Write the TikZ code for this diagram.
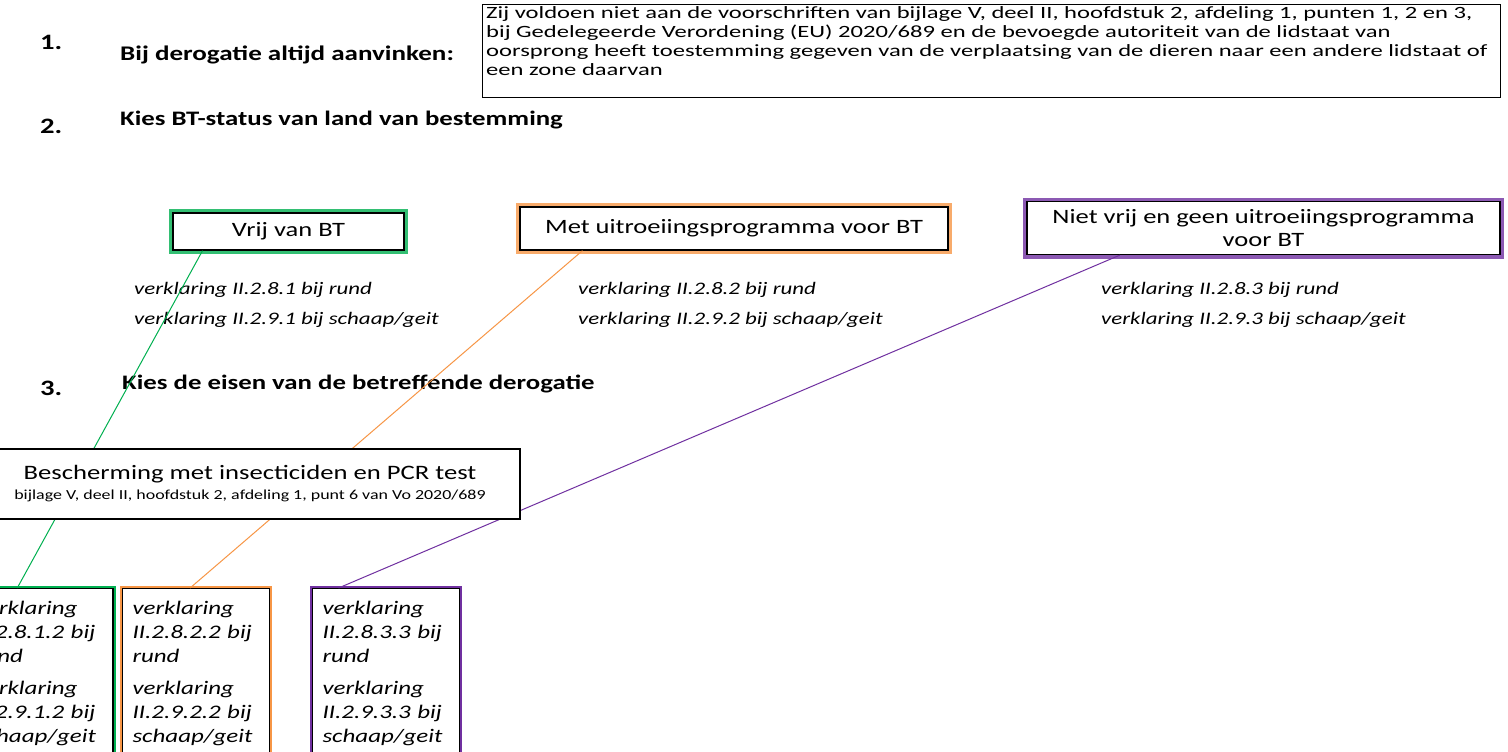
\documentclass[tikz,border=0pt]{standalone}
\usepackage{fontspec}
\setmainfont{Carlito}[FakeStretch=1.3]
\newfontfamily\zfont{Carlito}[FakeStretch=1.43]
\usetikzlibrary{calc}
\definecolor{cgreen}{HTML}{00B050}
\definecolor{corange}{HTML}{F79646}
\definecolor{cpurple}{HTML}{7030A0}
\begin{document}
\begin{tikzpicture}[x=1pt,y=-1pt,
  num/.style={anchor=west,inner sep=0pt,font=\bfseries\fontsize{22}{24}\selectfont},
  head/.style={anchor=west,inner sep=0pt,font=\bfseries\fontsize{20.6}{23}\selectfont},
  glowbox/.style={draw=black,line width=1.3pt,fill=white,inner sep=0pt,
    preaction={draw=#1,line width=8pt,opacity=0.8},
    font=\fontsize{20.4}{23}\selectfont,align=center},
  decl/.style={anchor=west,inner sep=0pt,font=\itshape\fontsize{17.6}{21}\selectfont},
  subbox/.style={draw=black,line width=1.3pt,fill=white,anchor=north,
    preaction={draw=#1,line width=5pt},
    text width=127pt,inner xsep=10pt,inner ysep=13pt,align=left,
    font=\itshape\fontsize{19.2}{24}\selectfont},
  link/.style={line width=1pt},
]
\path[use as bounding box] (0,0) rectangle (1508,752);
\clip (0,0) rectangle (1508,752);
\fill[white] (0,0) rectangle (1508,752);

% section 1
\node[num] (n1) at (40,42) {1.};
\node[head,font=\bfseries\fontsize{20.8}{23}\selectfont] (h1) at (120,55) {Bij derogatie altijd aanvinken:};
\node[draw=black,line width=1pt,minimum width=1018pt,minimum height=93pt,anchor=north west,inner sep=0pt] (zbox) at (482,4) {};
\node[anchor=north west,inner xsep=4pt,inner ysep=2pt,align=left,font=\zfont\fontsize{17.2}{19}\selectfont] (ztext) at (zbox.north west)
 {Zij voldoen niet aan de voorschriften van bijlage V, deel II, hoofdstuk 2, afdeling 1, punten 1, 2 en 3,\\
  bij Gedelegeerde Verordening (EU) 2020/689 en de bevoegde autoriteit van de lidstaat van\\
  oorsprong heeft toestemming gegeven van de verplaatsing van de dieren naar een andere lidstaat of\\
  een zone daarvan};

% section 2
\node[num] (n2) at (40,126) {2.};
\node[head] (h2) at (120,120) {Kies BT-status van land van bestemming};

\node[glowbox=cgreen,minimum width=231pt,minimum height=37pt] (vrij) at (288.5,231.5) {Vrij van BT};
\node[glowbox=corange,minimum width=428pt,minimum height=43pt] (met) at (734,228.5) {Met uitroeiingsprogramma voor BT};
\node[glowbox=cpurple,minimum width=473pt,minimum height=53pt] (niet) at (1263.5,228) {Niet vrij en geen uitroeiingsprogramma\\voor BT};

\node[decl] (d11) at (134,290) {verklaring II.2.8.1 bij rund};
\node[decl] (d12) at (134,320) {verklaring II.2.9.1 bij schaap/geit};
\node[decl] (d21) at (578,290) {verklaring II.2.8.2 bij rund};
\node[decl] (d22) at (578,320) {verklaring II.2.9.2 bij schaap/geit};
\node[decl] (d31) at (1101,290) {verklaring II.2.8.3 bij rund};
\node[decl] (d32) at (1101,320) {verklaring II.2.9.3 bij schaap/geit};

% section 3
\node[num] (n3) at (40,388) {3.};
\node[head] (h3) at (122,384) {Kies de eisen van de betreffende derogatie};

\node[subbox=cgreen] (b1) at (39.5,588) {verklaring\\II.2.8.1.2 bij\\rund\\[8pt]verklaring\\II.2.9.1.2 bij\\schaap/geit};
\node[subbox=corange] (b2) at (196,588) {verklaring\\II.2.8.2.2 bij\\rund\\[8pt]verklaring\\II.2.9.2.2 bij\\schaap/geit};
\node[subbox=cpurple] (b3) at (386,588) {verklaring\\II.2.8.3.3 bij\\rund\\[8pt]verklaring\\II.2.9.3.3 bij\\schaap/geit};

\draw[link,cgreen] ($(vrij.south west)!0.13!(vrij.south east)$) -- ($(b1.north west)!0.35!(b1.north east)$);
\draw[link,corange] ($(met.south west)!0.147!(met.south east)$) -- ($(b2.north west)!0.46!(b2.north east)$);
\draw[link,cpurple] ($(niet.south west)!0.197!(niet.south east)$) -- ($(b3.north west)!0.18!(b3.north east)$);

\node[draw=black,line width=1.2pt,fill=white,minimum width=540pt,minimum height=70pt,align=center,inner sep=0pt] (besch) at (250,484)
 {{\fontsize{20.5}{22}\selectfont Bescherming met insecticiden en PCR test}\\[6pt]
  {\fontsize{13.8}{15}\selectfont bijlage V, deel II, hoofdstuk 2, afdeling 1, punt 6 van Vo 2020/689}};
\end{tikzpicture}
\end{document}
